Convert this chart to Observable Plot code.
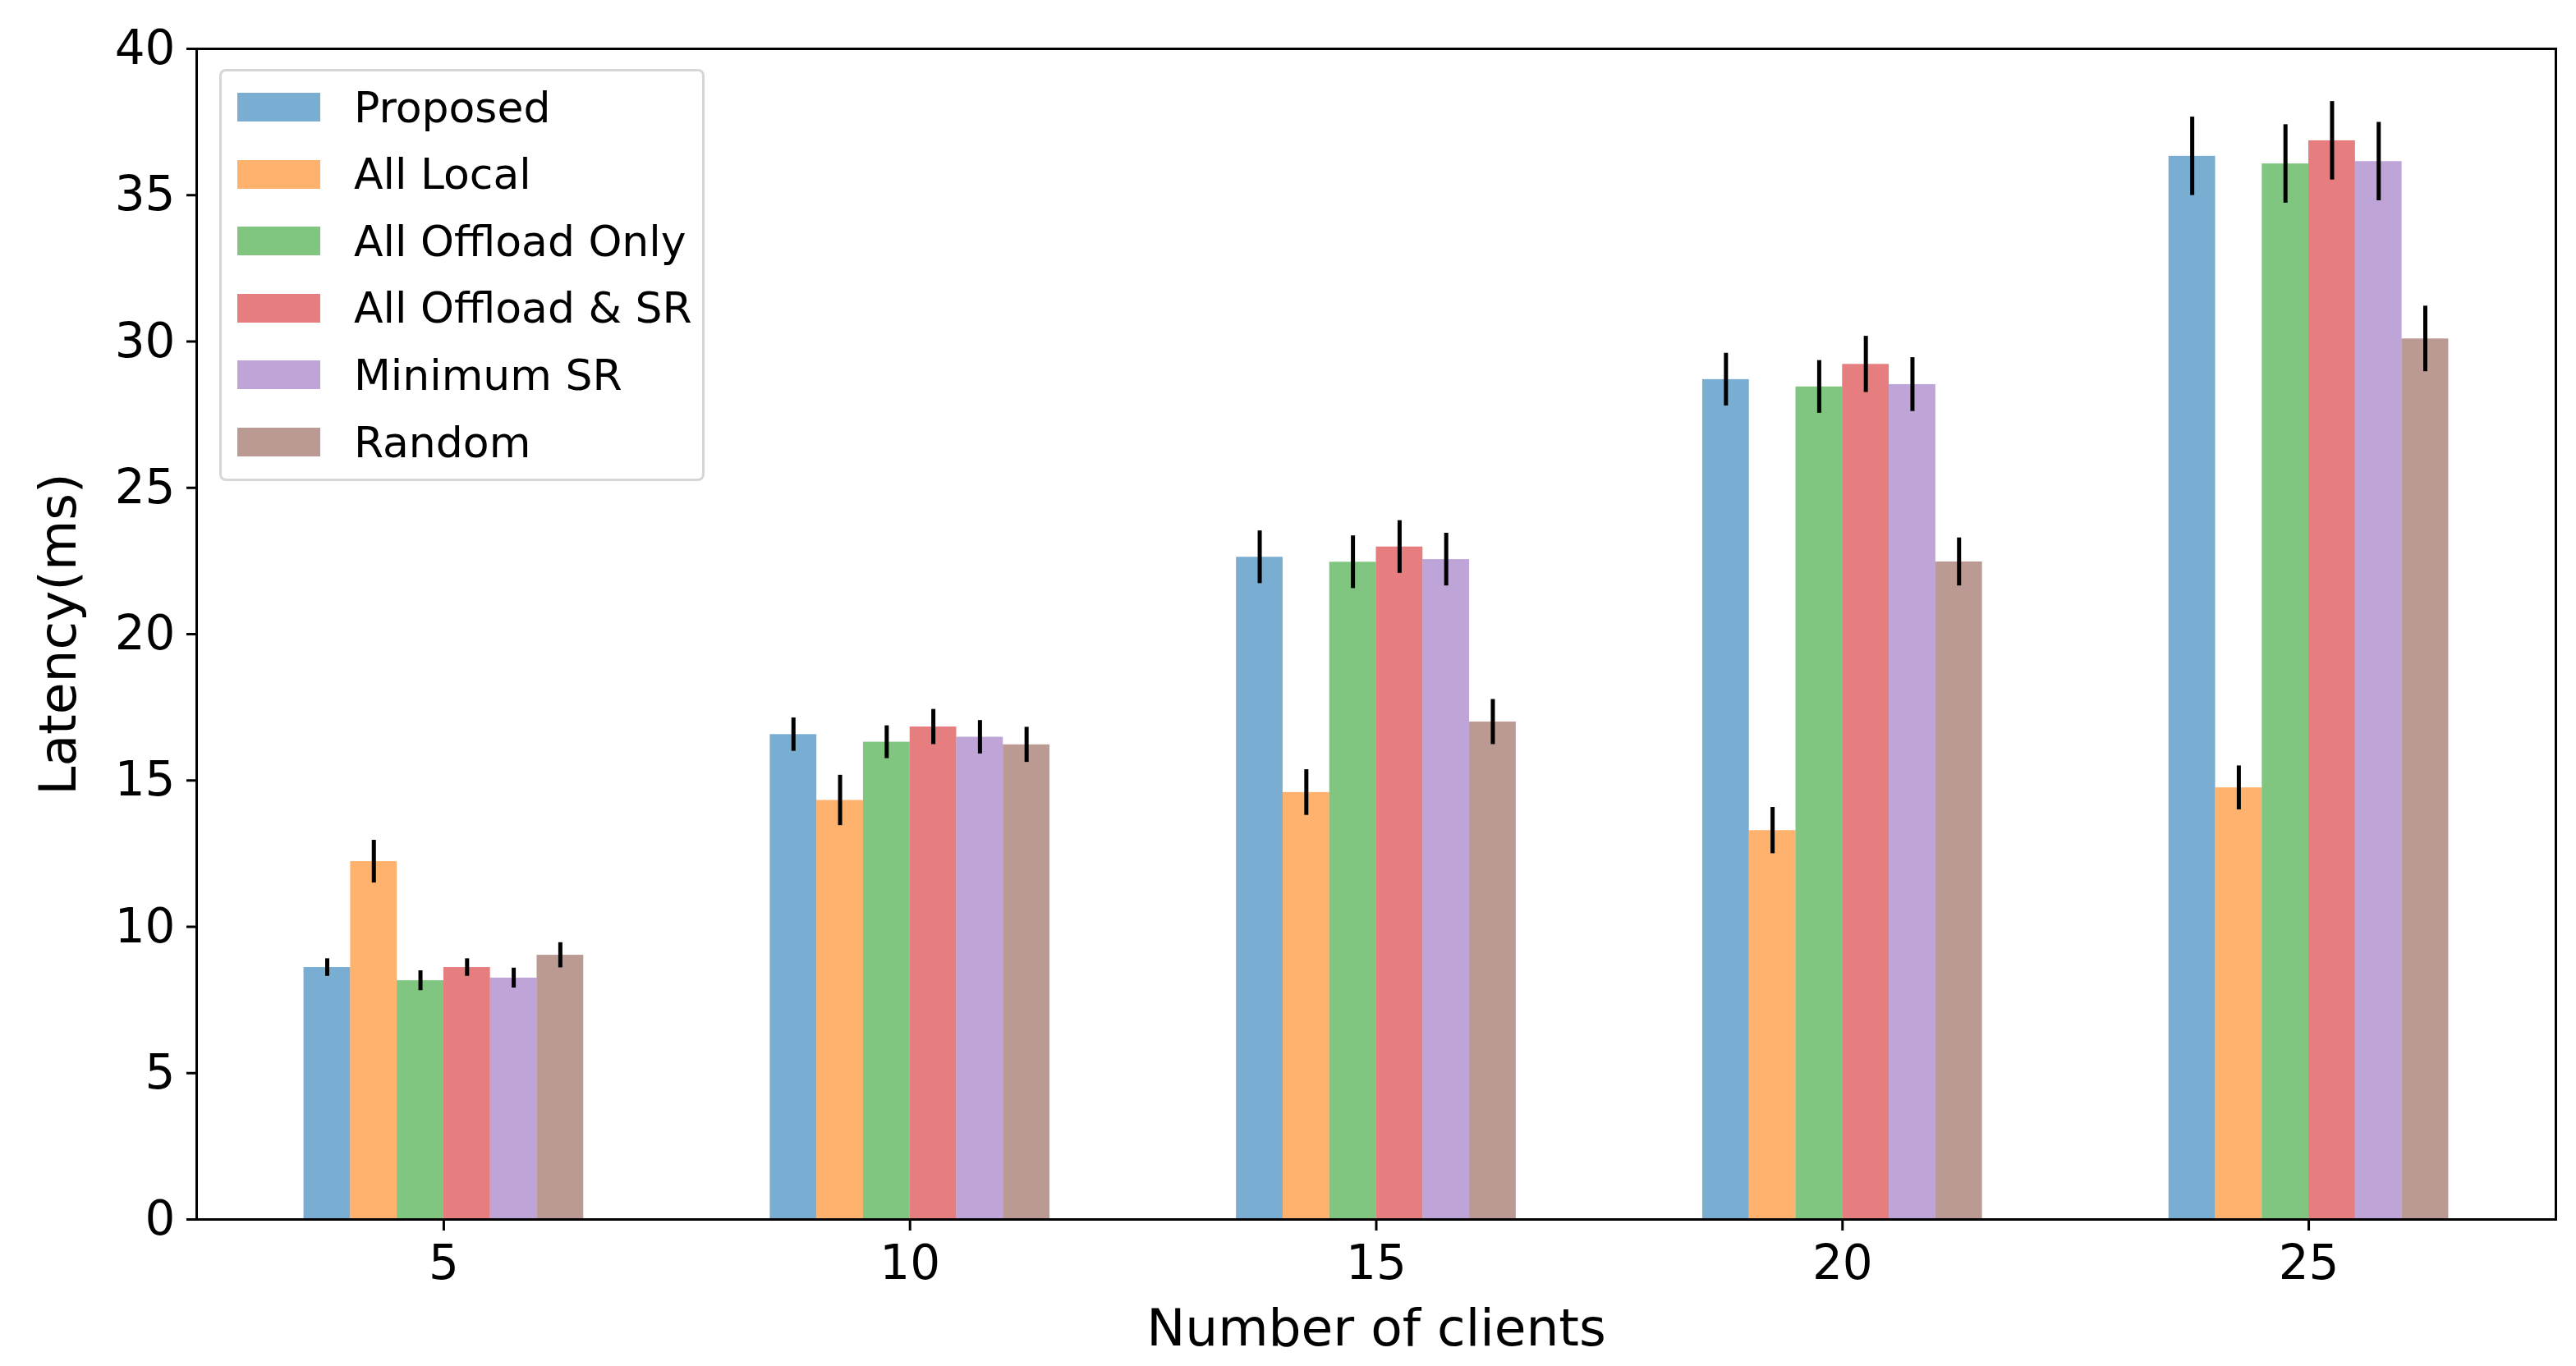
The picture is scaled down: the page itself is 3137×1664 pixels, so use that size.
<!DOCTYPE html>
<html>
<head>
<meta charset="utf-8">
<script src="https://cdn.jsdelivr.net/npm/d3@7"></script>
<script src="https://cdn.jsdelivr.net/npm/@observablehq/plot@0.6"></script>
<style>
  html, body { margin: 0; padding: 0; background: #fff; }
  #wrap { position: relative; width: 3137px; height: 1664px; font-family: "DejaVu Sans", sans-serif; }
  #legend { position: absolute; left: 267px; top: 84px; width: 585px; height: 496px;
    border: 3px solid rgba(204,204,204,0.8); border-radius: 8px; background: rgba(255,255,255,0.8); box-sizing: content-box; }
  .row { position: absolute; left: 0; height: 35px; }
  .sw { position: absolute; left: 19px; width: 101px; height: 35px; top: 0; }
  .lab { position: absolute; left: 161px; top: 50%; transform: translateY(-50%); font-size: 52px; white-space: nowrap; color: #000; line-height: 1; }
</style>
</head>
<body>
<div id="wrap"></div>
<script>
const clients = [5, 10, 15, 20, 25];
const seriesNames = ["Proposed", "All Local", "All Offload Only", "All Offload & SR", "Minimum SR", "Random"];
const seriesColors = ["#1f77b4", "#ff7f0e", "#2ca02c", "#d62728", "#9467bd", "#8c564b"];
const proposed      = [8.61, 16.57, 22.63, 28.70, 36.33];
const allLocal      = [12.23, 14.32, 14.59, 13.29, 14.75];
const offloadOnly   = [8.16, 16.31, 22.46, 28.45, 36.07];
const offloadSR     = [8.61, 16.83, 22.98, 29.22, 36.86];
const minimumSR     = [8.25, 16.48, 22.55, 28.53, 36.15];
const randomSel     = [9.03, 16.22, 17.00, 22.47, 30.09];
const proposedErr   = [0.30, 0.57, 0.90, 0.90, 1.34];
const allLocalErr   = [0.73, 0.86, 0.78, 0.79, 0.75];
const offloadOnlyErr= [0.34, 0.56, 0.90, 0.90, 1.34];
const offloadSRErr  = [0.30, 0.60, 0.90, 0.96, 1.34];
const minimumSRErr  = [0.34, 0.57, 0.90, 0.92, 1.34];
const randomErr     = [0.43, 0.60, 0.77, 0.82, 1.12];
const yTicks = [0, 5, 10, 15, 20, 25, 30, 35, 40];

const values = [proposed, allLocal, offloadOnly, offloadSR, minimumSR, randomSel];
const errors = [proposedErr, allLocalErr, offloadOnlyErr, offloadSRErr, minimumSRErr, randomErr];
const barW = 0.5;
const rows = [];
seriesNames.forEach((s, i) => {
  clients.forEach((c, j) => {
    const x1 = c - 1.5 + i * barW;
    rows.push({series: s, clients: c, x1, x2: x1 + barW, xc: x1 + barW / 2,
      value: values[i][j], lo: values[i][j] - errors[i][j], hi: values[i][j] + errors[i][j]});
  });
});

const chart = Plot.plot({
  width: 3137,
  height: 1664,
  marginLeft: 239,
  marginRight: 25,
  marginTop: 59,
  marginBottom: 179,
  style: {fontFamily: "DejaVu Sans, sans-serif", background: "#fff", color: "#000"},
  x: {domain: [2.35, 27.65], ticks: clients, tickFormat: d => String(d)},
  y: {domain: [0, 40], ticks: yTicks},
  color: {domain: seriesNames, range: seriesColors},
  marks: [
    Plot.rect(rows, {x1: "x1", x2: "x2", y1: 0, y2: "value", fill: "series", fillOpacity: 0.6}),
    Plot.ruleX(rows, {x: "xc", y1: "lo", y2: "hi", stroke: "#000", strokeWidth: 5}),
    Plot.frame({stroke: "#000", strokeWidth: 3}),
    Plot.axisX({ticks: clients, tickSize: 14, tickPadding: 17, fontSize: 58, strokeWidth: 3,
      label: "Number of clients", labelAnchor: "center", labelArrow: "none", labelOffset: 153}),
    Plot.axisY({ticks: yTicks, tickSize: 12, tickPadding: 14, fontSize: 58, strokeWidth: 3,
      label: "Latency(ms)", labelAnchor: "center", labelArrow: "none", labelOffset: 192})
  ]
});
chart.querySelectorAll("g[aria-label='x-axis label'], g[aria-label='y-axis label']").forEach(g => g.setAttribute("font-size", "63"));

const wrap = document.getElementById("wrap");
wrap.appendChild(chart);

const legend = document.createElement("div");
legend.id = "legend";
seriesNames.forEach((s, i) => {
  const row = document.createElement("div");
  row.className = "row";
  row.style.top = (26 + i * 81.6) + "px";
  row.style.width = "100%";
  const sw = document.createElement("div");
  sw.className = "sw";
  sw.style.background = seriesColors[i];
  sw.style.opacity = 0.6;
  const lab = document.createElement("div");
  lab.className = "lab";
  lab.textContent = s;
  row.appendChild(sw);
  row.appendChild(lab);
  legend.appendChild(row);
});
wrap.appendChild(legend);
</script>
</body>
</html>
